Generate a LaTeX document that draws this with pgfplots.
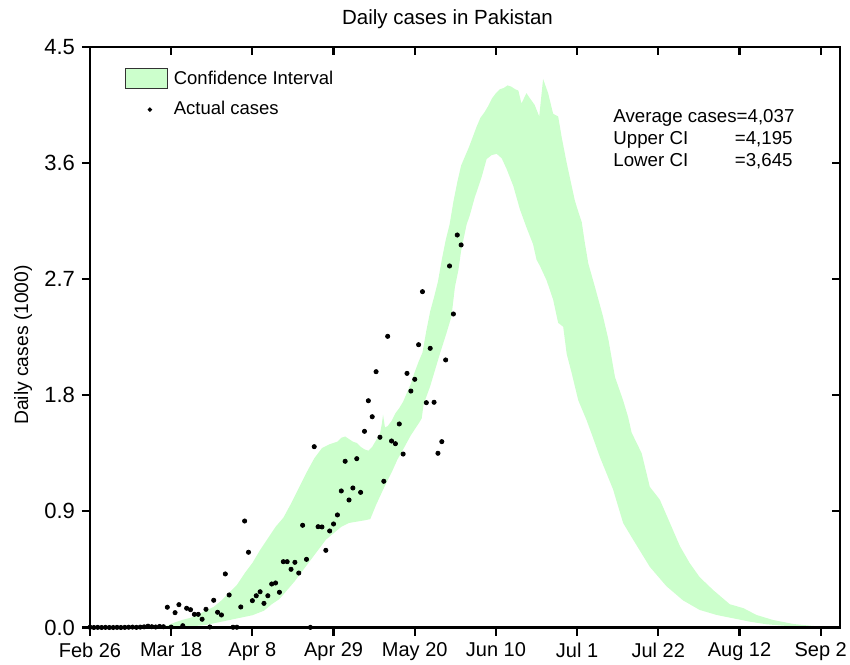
\documentclass[border=0pt]{standalone}
\usepackage{pgfplots}
\pgfplotsset{compat=1.18}
\usepackage{fontspec}
\setmainfont{Liberation Sans}
\definecolor{band}{RGB}{204,255,204}
\begin{document}
\begin{tikzpicture}
\useasboundingbox (-45bp,-18.75bp) rectangle (380bp,313.75bp);
\begin{axis}[
  scale only axis, width=375bp, height=290.4bp,
  at={(0,0)}, anchor=south west,
  xmin=0, xmax=194, ymin=0, ymax=4.5,
  xtick={0,21,42,63,84,105,126,147,168,189},
  xticklabels={Feb 26,Mar 18,Apr 8,Apr 29,May 20,Jun 10,Jul 1,Jul 22,Aug 12,Sep 2},
  ytick={0,0.9,1.8,2.7,3.6,4.5},
  yticklabels={0.0,0.9,1.8,2.7,3.6,4.5},
  xtick pos=left, ytick pos=left, tick align=outside,
  major tick length=4bp,
  axis line style={line width=1.1bp},
  tick style={line width=1.1bp, black},
  xticklabel style={font=\fontsize{10bp}{12bp}\selectfont},
  yticklabel style={font=\fontsize{11bp}{13bp}\selectfont},
  clip=false,
  legend style={at={(rel axis cs:0.0467,0.9633)}, anchor=north west, draw=none, fill=none,
    inner sep=0pt, row sep=5.5bp, column sep=2.2bp,
    font=\fontsize{9.25bp}{11bp}\selectfont,
    nodes={inner sep=0.5bp, anchor=west}},
  legend cell align=left,
]
\addplot[draw=none, fill=band,
  legend image code/.code={\draw[fill=band, draw=black!80, line width=0.5bp] (0bp,-5bp) rectangle (21bp,5bp);}]
coordinates {
(18,0) (20,0.015) (22,0.04) (24,0.06) (26,0.075) (28,0.10) (30,0.13) (32,0.16) (34,0.21) (36,0.27) (38,0.33) (40,0.42) (42,0.50) (44,0.60) (46,0.69) (48,0.78) (50,0.85) (52,0.96) (54,1.08) (56,1.20) (58,1.31) (60,1.39) (62,1.42) (64,1.44) (65,1.47) (66,1.48) (67,1.46) (68,1.44) (69,1.43) (70,1.40) (71,1.38) (72,1.37) (73,1.40) (74,1.45) (75,1.50) (75.5,1.58) (75.8,1.65) (76.3,1.55) (77,1.56) (78,1.60) (79,1.66) (80,1.70) (81,1.75) (82,1.82) (83,1.89) (84,1.98) (85,2.06) (86,2.13) (87,2.30) (88,2.45) (89,2.56) (90,2.68) (91,2.85) (92,3.00) (93,3.12) (94,3.30) (95,3.45) (96,3.58) (97,3.65) (98,3.72) (99,3.80) (100,3.88) (101,3.95) (102,3.99) (103,4.04) (104,4.10) (105,4.14) (106,4.17) (107,4.18) (108,4.20) (109,4.19) (110,4.17) (110.8,4.16) (111.6,4.06) (112.9,4.14) (113.8,4.10) (115,4.05) (116.2,3.96) (117.2,4.25) (118.5,4.14) (119.8,3.98) (121.1,3.96) (122,3.80) (123.3,3.60) (124.6,3.42) (125.4,3.31) (126,3.25) (127.2,3.14) (128,2.98) (128.9,2.82) (130.6,2.64) (132.7,2.41) (134.1,2.23) (135.8,1.94) (137.9,1.76) (139.2,1.63) (140.1,1.51) (142.7,1.35) (144.8,1.09) (147.4,0.99) (150,0.81) (152.6,0.63) (155.1,0.50) (157.7,0.39) (161.2,0.29) (165.5,0.18) (169,0.15) (172.4,0.097) (176.7,0.058) (182,0.027) (187,0.012) (192,0.004) (194,0.002)
(194,0.001) (188,0.003) (183.6,0.006) (179.3,0.014) (175,0.025) (170.7,0.045) (166.4,0.071) (162.1,0.097) (157.7,0.136) (153.4,0.21) (149.1,0.32) (144.8,0.47) (140.5,0.68) (137.9,0.81) (135.3,1.07) (131.9,1.32) (130,1.48) (128.4,1.61) (126.3,1.76) (124.6,1.97) (123.3,2.12) (122.4,2.33) (121.1,2.36) (119.8,2.54) (118.1,2.69) (116.4,2.80) (115.5,2.85) (114.6,2.97) (112.9,3.10) (111.2,3.24) (109.5,3.42) (107.8,3.55) (106.5,3.635) (105.2,3.67) (103.9,3.66) (102.6,3.63) (101.3,3.49) (99.5,3.33) (98.3,3.20) (97.4,3.12) (96,2.92) (95.3,2.77) (94.4,2.64) (93.5,2.41) (92.2,2.28) (90.5,2.12) (88,1.87) (86.3,1.73) (85.8,1.62) (85,1.58) (83,1.49) (81,1.38) (79.5,1.30) (78,1.20) (76,1.08) (74,0.95) (72.5,0.84) (71,0.83) (69,0.82) (67,0.81) (65,0.78) (63,0.73) (61,0.68) (59,0.60) (57,0.52) (55,0.44) (53,0.36) (51,0.29) (49,0.22) (47,0.18) (45,0.13) (42,0.095) (38,0.07) (34,0.045) (30,0.02) (26,0.008) (22,0.002) (18,0)
};
\addlegendentry{Confidence Interval}
\addplot[only marks, mark=*, mark size=1.05bp, black,
  legend image code/.code={\fill[black] (12bp,0bp) circle[radius=0.9bp]; \path (0bp,0bp) (21bp,0bp);}]
table[row sep=\\] {
x y\\
0 0.002\\ 1 0.000\\ 2 0.001\\ 3 0.000\\ 4 0.001\\ 5 0.000\\ 6 0.000\\ 7 0.001\\ 8 0.000\\ 9 0.001\\
10 0.002\\ 11 0.003\\ 12 0.001\\ 13 0.003\\ 14 0.005\\ 15 0.010\\ 16 0.006\\ 17 0.004\\ 18 0.008\\ 19 0.006\\
20 0.157\\ 21 0.003\\ 22 0.115\\ 23 0.177\\ 24 0.014\\ 25 0.149\\ 26 0.138\\ 27 0.102\\ 28 0.102\\ 29 0.064\\
30 0.141\\ 31 0.004\\ 32 0.211\\ 33 0.118\\ 34 0.097\\ 35 0.415\\ 36 0.252\\ 37 0.002\\ 38 0.002\\ 39 0.159\\
40 0.825\\ 41 0.583\\ 42 0.208\\ 43 0.246\\ 44 0.277\\ 45 0.187\\ 46 0.246\\ 47 0.337\\ 48 0.345\\ 49 0.273\\
50 0.510\\ 51 0.510\\ 52 0.451\\ 53 0.505\\ 54 0.422\\ 55 0.792\\ 56 0.528\\ 57 0.001\\ 58 1.401\\ 59 0.781\\
60 0.779\\ 61 0.598\\ 62 0.748\\ 63 0.802\\ 64 0.872\\ 65 1.058\\ 66 1.288\\ 67 0.988\\ 68 1.081\\ 69 1.308\\
70 1.047\\ 71 1.520\\ 72 1.757\\ 73 1.633\\ 74 1.982\\ 75 1.474\\ 76 1.133\\ 77 2.256\\ 78 1.445\\ 79 1.424\\
80 1.577\\ 81 1.344\\ 82 1.969\\ 83 1.832\\ 84 1.923\\ 85 2.191\\ 86 2.602\\ 87 1.742\\ 88 2.163\\ 89 1.745\\
90 1.350\\ 91 1.440\\ 92 2.073\\ 93 2.801\\ 94 2.429\\ 95 3.041\\ 96 2.964\\
};
\addlegendentry{Actual cases}
\end{axis}
\begin{axis}[
  scale only axis, width=375bp, height=290.4bp,
  at={(0,0)}, anchor=south west,
  xmin=0, xmax=194, ymin=0, ymax=4.5,
  xtick={0,21,42,63,84,105,126,147,168,189},
  ytick={0,0.9,1.8,2.7,3.6,4.5},
  xticklabels={}, yticklabels={},
  xtick pos=right, ytick pos=right, tick align=inside,
  major tick length=4bp,
  axis line style={line width=1.1bp},
  tick style={line width=1.1bp, black},
]
\end{axis}
\node[anchor=base, font=\fontsize{10.25bp}{12bp}\selectfont] at (178.75bp,301.25bp) {Daily cases in Pakistan};
\node[anchor=base, rotate=90, font=\fontsize{9.65bp}{12bp}\selectfont] at (-31bp,141.25bp) {Daily cases (1000)};
\begin{scope}[font=\fontsize{9.35bp}{11bp}\selectfont]
\node[anchor=base west, inner sep=0pt] at (261.5bp,252.4bp) {Average cases=4,037};
\node[anchor=base west, inner sep=0pt] at (261.5bp,241.25bp) {Upper CI};
\node[anchor=base east, inner sep=0pt] at (351.5bp,241.25bp) {=4,195};
\node[anchor=base west, inner sep=0pt] at (261.5bp,230.4bp) {Lower CI};
\node[anchor=base east, inner sep=0pt] at (351.5bp,230.4bp) {=3,645};
\end{scope}
\end{tikzpicture}
\end{document}
